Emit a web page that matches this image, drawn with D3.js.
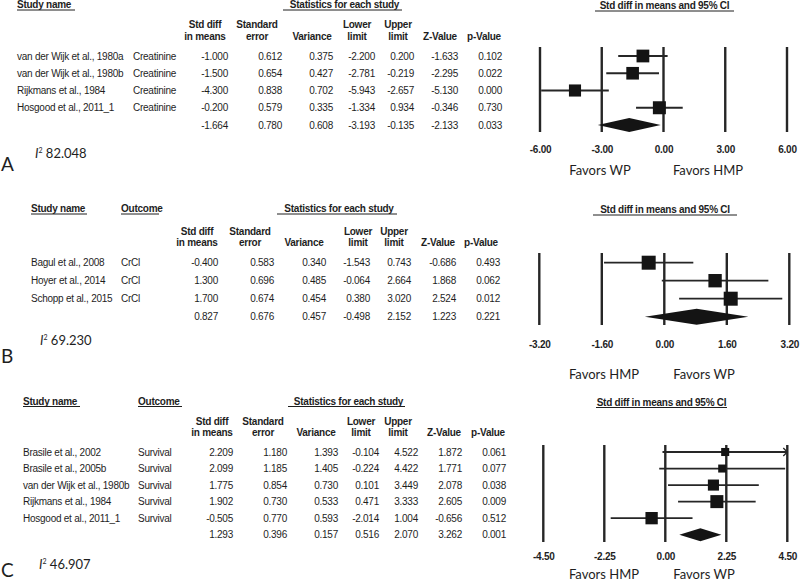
<!DOCTYPE html>
<html>
<head>
<meta charset="utf-8">
<script src="https://cdn.jsdelivr.net/npm/d3@7"></script>
<style>
  html, body { margin: 0; padding: 0; background: #fff; }
  svg { display: block; }
  .tbl { font-family: "Liberation Sans", Arial, sans-serif; font-size: 10px; fill: #1e1e1e; letter-spacing: -0.25px; }
  .bold { font-weight: bold; }
  .cal { font-family: Lato, "Open Sans", sans-serif; fill: #1e1e1e; }
</style>
</head>
<body>
<svg id="chart" width="800" height="583"></svg>
<script>
// ---------------- DATA ----------------
const columnHeads = [["Std diff", "in means"], ["Standard", "error"], ["", "Variance"], ["Lower", "limit"], ["Upper", "limit"], ["", "Z-Value"], ["", "p-Value"]];

// Panel A
const studiesA  = ["van der Wijk et al., 1980a", "van der Wijk et al., 1980b", "Rijkmans et al., 1984", "Hosgood et al., 2011_1"];
const outcomeA  = ["Creatinine", "Creatinine", "Creatinine", "Creatinine"];
const smdA      = [-1.000, -1.500, -4.300, -0.200];
const seA       = [0.612, 0.654, 0.838, 0.579];
const varA      = [0.375, 0.427, 0.702, 0.335];
const lowA      = [-2.200, -2.781, -5.943, -1.334];
const upA       = [0.200, -0.219, -2.657, 0.934];
const zA        = [-1.633, -2.295, -5.130, -0.346];
const pA        = [0.102, 0.022, 0.000, 0.730];
const weightA   = [25.5, 25.0, 23.0, 26.5];
const summaryA  = [-1.664, 0.780, 0.608, -3.193, -0.135, -2.133, 0.033];
const i2A       = 82.048;
const ticksA    = [-6, -3, 0, 3, 6];
const favorsA   = ["Favors WP", "Favors HMP"];

// Panel B
const studiesB  = ["Bagul et al., 2008", "Hoyer et al., 2014", "Schopp et al., 2015"];
const outcomeB  = ["CrCl", "CrCl", "CrCl"];
const smdB      = [-0.400, 1.300, 1.700];
const seB       = [0.583, 0.696, 0.674];
const varB      = [0.340, 0.485, 0.454];
const lowB      = [-1.543, -0.064, 0.380];
const upB       = [0.743, 2.664, 3.020];
const zB        = [-0.686, 1.868, 2.524];
const pB        = [0.493, 0.062, 0.012];
const weightB   = [34, 31, 34];
const summaryB  = [0.827, 0.676, 0.457, -0.498, 2.152, 1.223, 0.221];
const i2B       = 69.230;
const ticksB    = [-3.2, -1.6, 0, 1.6, 3.2];
const favorsB   = ["Favors HMP", "Favors WP"];

// Panel C
const studiesC  = ["Brasile et al., 2002", "Brasile et al., 2005b", "van der Wijk et al., 1980b", "Rijkmans et al., 1984", "Hosgood et al., 2011_1"];
const outcomeC  = ["Survival", "Survival", "Survival", "Survival", "Survival"];
const smdC      = [2.209, 2.099, 1.775, 1.902, -0.505];
const seC       = [1.180, 1.185, 0.854, 0.730, 0.770];
const varC      = [1.393, 1.405, 0.730, 0.533, 0.593];
const lowC      = [-0.104, -0.224, 0.101, 0.471, -2.014];
const upC       = [4.522, 4.422, 3.449, 3.333, 1.004];
const zC        = [1.872, 1.771, 2.078, 2.605, -0.656];
const pC        = [0.061, 0.077, 0.038, 0.009, 0.512];
const weightC   = [11.3, 11.2, 21.5, 29.5, 26.5];
const summaryC  = [1.293, 0.396, 0.157, 0.516, 2.070, 3.262, 0.001];
const i2C       = 46.907;
const ticksC    = [-4.5, -2.25, 0, 2.25, 4.5];
const favorsC   = ["Favors HMP", "Favors WP"];

// ---------------- DRAWING ----------------
const loc = d3.formatLocale({decimal: ".", thousands: ",", grouping: [3], currency: ["", ""], minus: "-"});
const f3 = loc.format(".3f");
const f2 = loc.format(".2f");

const svg = d3.select("#chart");
const ink = "#1e1e1e";
const lineInk = "#262626";

function drawPanel(d, L) {
  const g = svg.append("g");
  const n = d.studies.length;
  const rowY = i => L.row0 + i * L.rowStep;

  // Left headers
  g.append("text").attr("class", "tbl bold").attr("x", L.studyX).attr("y", L.hdrY).text("Study name");
  g.append("line").attr("x1", L.studyX).attr("x2", L.studyU).attr("y1", L.hdrY + 2).attr("y2", L.hdrY + 2).attr("stroke", ink).attr("stroke-width", 1);
  if (L.outcomeHdr) {
    g.append("text").attr("class", "tbl bold").attr("x", L.outcomeX).attr("y", L.hdrY).text("Outcome");
    g.append("line").attr("x1", L.outcomeX).attr("x2", L.outcomeU).attr("y1", L.hdrY + 2).attr("y2", L.hdrY + 2).attr("stroke", ink).attr("stroke-width", 1);
  }
  g.append("text").attr("class", "tbl bold").attr("x", (L.statX0 + L.statX1) / 2 + 2).attr("y", L.hdrY).attr("text-anchor", "middle").text("Statistics for each study");
  g.append("line").attr("x1", L.statX0).attr("x2", L.statX1).attr("y1", L.hdrY + 2).attr("y2", L.hdrY + 2).attr("stroke", ink).attr("stroke-width", 1);

  // Column headers
  columnHeads.forEach((h, j) => {
    h.forEach((t, k) => {
      if (!t) return;
      g.append("text").attr("class", "tbl bold").attr("x", L.colC[j]).attr("y", L.colHdrY[k])
        .attr("text-anchor", "middle").text(t);
    });
  });

  // Rows
  const cols = [d.smd, d.se, d.vari, d.low, d.up, d.z, d.p];
  for (let i = 0; i < n; i++) {
    g.append("text").attr("class", "tbl").attr("x", L.studyX).attr("y", rowY(i) + 3.5).text(d.studies[i]);
    g.append("text").attr("class", "tbl").attr("x", L.outcomeX).attr("y", rowY(i) + 3.5).text(d.outcome[i]);
    cols.forEach((c, j) => {
      g.append("text").attr("class", "tbl").attr("x", L.colR[j]).attr("y", rowY(i) + 3.5)
        .attr("text-anchor", "end").text(f3(c[i]));
    });
  }
  d.summary.forEach((v, j) => {
    g.append("text").attr("class", "tbl").attr("x", L.colR[j]).attr("y", rowY(n) + 3.5)
      .attr("text-anchor", "end").text(f3(v));
  });

  // I^2 and panel letter
  const it = g.append("text").attr("class", "cal").attr("x", L.i2X).attr("y", L.i2Y).style("font-size", "13px");
  it.append("tspan").style("font-style", "italic").text("I");
  it.append("tspan").attr("dy", -5).style("font-size", "7px").text("2");
  it.append("tspan").attr("dy", 5).text(" " + f3(d.i2));
  g.append("text").attr("class", "cal").attr("x", L.letterX).attr("y", L.letterY).style("font-size", "19px").text(L.letter);

  // Plot
  const x = d3.scaleLinear().domain(d3.extent(d.ticks)).range([L.px0, L.px1]);
  g.append("text").attr("class", "tbl bold").attr("x", (L.ph0 + L.ph1) / 2).attr("y", L.hdrY + 1).attr("text-anchor", "middle").text("Std diff in means and 95%  CI");
  g.append("line").attr("x1", L.ph0).attr("x2", L.ph1).attr("y1", L.hdrY + 3).attr("y2", L.hdrY + 3).attr("stroke", ink).attr("stroke-width", 1);

  g.selectAll("line.grid").data(d.ticks).enter().append("line").attr("class", "grid")
    .attr("x1", t => x(t)).attr("x2", t => x(t)).attr("y1", L.gTop).attr("y2", L.gBot)
    .attr("stroke", lineInk).attr("stroke-width", 2.4);

  const axis = d3.axisBottom(x).tickValues(d.ticks).tickFormat(f2).tickSize(0).tickPadding(0);
  const ag = g.append("g").attr("transform", `translate(0,${L.tickY - 8})`).call(axis);
  ag.select(".domain").remove();
  ag.selectAll("text").attr("class", "tbl bold").attr("fill", ink).attr("dy", "0.71em").style("font-size", "10px").style("font-family", '"Liberation Sans", Arial, sans-serif');

  const dom = x.domain();
  const size = d3.scaleSqrt().domain([0, d3.max(d.weight)]).range([0, L.maxBox]);
  for (let i = 0; i < n; i++) {
    const y = rowY(i);
    const lo = Math.max(d.low[i], dom[0]), hi = Math.min(d.up[i], dom[1]);
    g.append("line").attr("x1", x(lo)).attr("x2", x(hi)).attr("y1", y).attr("y2", y)
      .attr("stroke", lineInk).attr("stroke-width", 1.8);
    if (d.up[i] > dom[1]) {
      g.append("path").attr("d", `M${x(hi) - 4},${y - 4}L${x(hi)},${y}L${x(hi) - 4},${y + 4}`)
        .attr("fill", "none").attr("stroke", lineInk).attr("stroke-width", 1.3);
    }
    const s = size(d.weight[i]);
    g.append("rect").attr("x", x(d.smd[i]) - s / 2).attr("y", y - s / 2).attr("width", s).attr("height", s).attr("fill", "#141414");
  }
  const ys = rowY(n);
  const h = L.diaH / 2;
  g.append("path").attr("d", `M${x(d.summary[3])},${ys}L${x(d.summary[0])},${ys - h}L${x(d.summary[4])},${ys}L${x(d.summary[0])},${ys + h}Z`).attr("fill", "#141414");

  // Favors labels
  g.append("text").attr("class", "cal").attr("x", L.fav[0]).attr("y", L.favY).attr("text-anchor", "middle").style("font-size", "13px").text(d.favors[0]);
  g.append("text").attr("class", "cal").attr("x", L.fav[1]).attr("y", L.favY).attr("text-anchor", "middle").style("font-size", "13px").text(d.favors[1]);
}

drawPanel(
  {studies: studiesA, outcome: outcomeA, smd: smdA, se: seA, vari: varA, low: lowA, up: upA, z: zA, p: pA, weight: weightA, summary: summaryA, i2: i2A, ticks: ticksA, favors: favorsA},
  {letter: "A", hdrY: 8, studyX: 17, studyU: 75, outcomeX: 133, outcomeHdr: false, statX0: 283, statX1: 402,
   colHdrY: [28, 39.5], colC: [205, 257, 312, 357, 398, 440, 484], colR: [228, 282, 333, 375, 414, 458, 502],
   row0: 56, rowStep: 17.25, px0: 540, px1: 787, gTop: 47, gBot: 132, tickY: 154, favY: 175, fav: [600, 708],
   ph0: 595, ph1: 734, maxBox: 13, diaH: 14, i2X: 35, i2Y: 158, letterX: 1, letterY: 171}
);
drawPanel(
  {studies: studiesB, outcome: outcomeB, smd: smdB, se: seB, vari: varB, low: lowB, up: upB, z: zB, p: pB, weight: weightB, summary: summaryB, i2: i2B, ticks: ticksB, favors: favorsB},
  {letter: "B", hdrY: 212, studyX: 31, studyU: 87, outcomeX: 121, outcomeU: 159, outcomeHdr: true, statX0: 277, statX1: 397,
   colHdrY: [234.5, 245.5], colC: [197, 250, 304, 358, 394, 438, 481], colR: [218, 274, 326, 370, 411, 456, 500],
   row0: 262.7, rowStep: 18, px0: 539.3, px1: 789.3, gTop: 253, gBot: 325, tickY: 349, favY: 379, fav: [604, 704],
   ph0: 593, ph1: 737, maxBox: 14, diaH: 16, i2X: 40, i2Y: 345, letterX: 1, letterY: 363}
);
drawPanel(
  {studies: studiesC, outcome: outcomeC, smd: smdC, se: seC, vari: varC, low: lowC, up: upC, z: zC, p: pC, weight: weightC, summary: summaryC, i2: i2C, ticks: ticksC, favors: favorsC},
  {letter: "C", hdrY: 404.5, studyX: 23, studyU: 80, outcomeX: 138, outcomeU: 182, outcomeHdr: true, statX0: 288, statX1: 405,
   colHdrY: [425, 436], colC: [212, 263, 316, 361, 398, 444, 488], colR: [233, 287, 338, 379, 418, 462, 506],
   row0: 452, rowStep: 16.54, px0: 543.3, px1: 787.3, gTop: 445, gBot: 542, tickY: 561, favY: 578.5, fav: [604, 704],
   ph0: 596, ph1: 727, maxBox: 13, diaH: 13, i2X: 39, i2Y: 569, letterX: 1, letterY: 577}
);
</script>
</body>
</html>
